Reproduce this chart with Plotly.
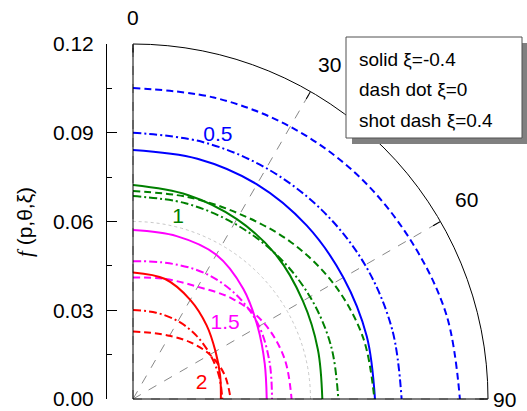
import math
import plotly.graph_objects as go

W, H = 527, 411

# angles (deg, clockwise from top)
theta = [0, 15, 30, 45, 60, 75, 90]

# p = 0.5 (blue)
b_solid = [0.0842, 0.0841, 0.0838, 0.0830, 0.0821, 0.0818, 0.0818]
b_dd    = [0.0900, 0.0900, 0.0901, 0.0903, 0.0906, 0.0907, 0.0908]
b_dash  = [0.1051, 0.1055, 0.1063, 0.1072, 0.1081, 0.1097, 0.1105]
# p = 1 (green)
g_solid = [0.0723, 0.0714, 0.0702, 0.0686, 0.0663, 0.0647, 0.0640]
g_dd    = [0.0686, 0.0685, 0.0685, 0.0688, 0.0691, 0.0693, 0.0694]
g_dash  = [0.0703, 0.0707, 0.0722, 0.0752, 0.0782, 0.0805, 0.0816]
# p = 1.5 (magenta)
m_solid = [0.0571, 0.0570, 0.0563, 0.0527, 0.0487, 0.0461, 0.0452]
m_dd    = [0.0466, 0.0475, 0.0490, 0.0496, 0.0492, 0.0478, 0.0470]
m_dash  = [0.0411, 0.0420, 0.0438, 0.0478, 0.0512, 0.0530, 0.0536]
# p = 2 (red)
r_solid = [0.0428, 0.0420, 0.0387, 0.0352, 0.0322, 0.0305, 0.0297]
r_dd    = [0.0301, 0.0302, 0.0304, 0.0303, 0.0301, 0.0301, 0.0302]
r_dash  = [0.0228, 0.0232, 0.0247, 0.0272, 0.0300, 0.0320, 0.0330]

labels = ["0.5", "1", "1.5", "2"]
label_r = [0.0934, 0.0630, 0.0403, 0.0238]
label_t = [17.9, 14.0, 50.6, 77.1]
colors = ["#0000FF", "#008000", "#FF00FF", "#FF0000"]

legend_lines = ["solid ξ=-0.4", "dash dot ξ=0", "shot dash ξ=0.4"]
radial_ticks = [0.00, 0.03, 0.06, 0.09, 0.12]
angular_ticks = [0, 30, 60, 90]
# where the angular tick labels sit (outside the rim), in radial units
angular_label_r = [0.1288, 0.1311, 0.1314, 0.1257]
angular_label_t = [0, 30.5, 59.2, 90]

DASH = "7px,4px"
DASHDOT = "8px,3px,2px,3px"
FONT = "Liberation Sans, Arial"

# polar frame geometry (pixels)
CX, CY, RPX = 133, 399, 355
RMAX = radial_ticks[-1]

fig = go.Figure()
series = [
    (b_solid, b_dd, b_dash, colors[0]),
    (g_solid, g_dd, g_dash, colors[1]),
    (m_solid, m_dd, m_dash, colors[2]),
    (r_solid, r_dd, r_dash, colors[3]),
]
for s, dd, da, c in series:
    for vals, dash in ((s, "solid"), (dd, DASHDOT), (da, DASH)):
        fig.add_trace(go.Scatterpolar(
            r=vals, theta=theta, mode="lines",
            line=dict(color=c, width=2, dash=dash, shape="spline", smoothing=1),
            showlegend=False, hoverinfo="skip"))

for lab, rr, tt, c in zip(labels, label_r, label_t, colors):
    fig.add_trace(go.Scatterpolar(
        r=[rr], theta=[tt], mode="text", text=[lab],
        textfont=dict(color=c, size=21, family=FONT),
        showlegend=False, hoverinfo="skip"))

# invisible trace to carry the left radial scale axis
fig.add_trace(go.Scatter(x=[0, 0], y=[radial_ticks[0], radial_ticks[-1]],
                         mode="lines", line=dict(width=0), showlegend=False,
                         hoverinfo="skip"))

x0 = CX / W
x1 = (CX + RPX) / W
y0 = (H - CY) / H
y1 = (H - CY + RPX) / H

fig.update_layout(
    width=W, height=H,
    margin=dict(l=0, r=0, t=0, b=0, pad=0, autoexpand=False),
    paper_bgcolor="white", plot_bgcolor="white",
    font=dict(family=FONT, size=21, color="black"),
    showlegend=False,
    polar=dict(
        domain=dict(x=[x0, x1], y=[y0, y1]),
        sector=[0, 90],
        bgcolor="white",
        angularaxis=dict(
            rotation=90, direction="clockwise",
            tickmode="array", tickvals=angular_ticks,
            showticklabels=False,
            ticks="inside", ticklen=8, tickcolor="black", tickwidth=1,
            showline=True, linecolor="black", linewidth=1,
            showgrid=True, gridcolor="#888888", griddash="dash", gridwidth=1,
        ),
        radialaxis=dict(
            range=[0, RMAX], showline=False, showticklabels=False, ticks="",
            tickmode="array", tickvals=[0.06],
            showgrid=True, gridcolor="#C8C8C8", griddash="dot", gridwidth=1,
        ),
    ),
    xaxis=dict(domain=[0, 0.1], visible=False, range=[1, 2]),
    yaxis=dict(
        domain=[y0, y1], anchor="free", position=106 / W,
        range=[0, RMAX], autorange=False,
        tickmode="array", tickvals=radial_ticks,
        ticktext=["%.2f" % v for v in radial_ticks],
        ticks="inside", ticklen=10, tickwidth=1, tickcolor="black",
        minor=dict(ticks="inside", ticklen=5, dtick=0.015, tick0=0,
                   tickcolor="black", showgrid=False),
        showline=True, linecolor="black", linewidth=1,
        showgrid=False, zeroline=False, automargin=False,
        ticklabelstandoff=8,
        tickfont=dict(size=21),
    ),
)

# angular tick labels, placed outside the rim
for a, rr, tt in zip(angular_ticks, angular_label_r, angular_label_t):
    d = rr / RMAX * RPX
    px = CX + d * math.sin(math.radians(tt))
    py = CY - d * math.cos(math.radians(tt))
    fig.add_annotation(x=px / W, y=(H - py) / H, xref="paper", yref="paper",
                       text=str(a), showarrow=False, xanchor="center",
                       yanchor="middle", font=dict(size=21, family=FONT))

# y-axis title
fig.add_annotation(x=25 / W, y=(H - 222) / H, xref="paper", yref="paper",
                   xanchor="center", yanchor="middle",
                   text="<span style=\"font-family:'Liberation Serif'\"><i>f</i></span> (p,θ,ξ)",
                   textangle=-90, showarrow=False,
                   font=dict(size=21, family=FONT))

# legend box with shadow
fig.add_shape(type="rect", xref="paper", yref="paper",
              x0=352 / W, x1=527 / W, y0=(H - 144) / H, y1=(H - 43) / H,
              fillcolor="#808080", line=dict(width=0), layer="above")
fig.add_shape(type="rect", xref="paper", yref="paper",
              x0=346 / W, x1=522 / W, y0=(H - 138) / H, y1=(H - 37) / H,
              fillcolor="white", line=dict(color="#505050", width=1), layer="above")
for txt, yy in zip(legend_lines, [59, 90, 121]):
    fig.add_annotation(x=357 / W, y=(H - yy) / H, xref="paper", yref="paper",
                       xanchor="left", yanchor="middle", text=txt,
                       showarrow=False, font=dict(size=19, family=FONT))

fig.write_html("out.html")
